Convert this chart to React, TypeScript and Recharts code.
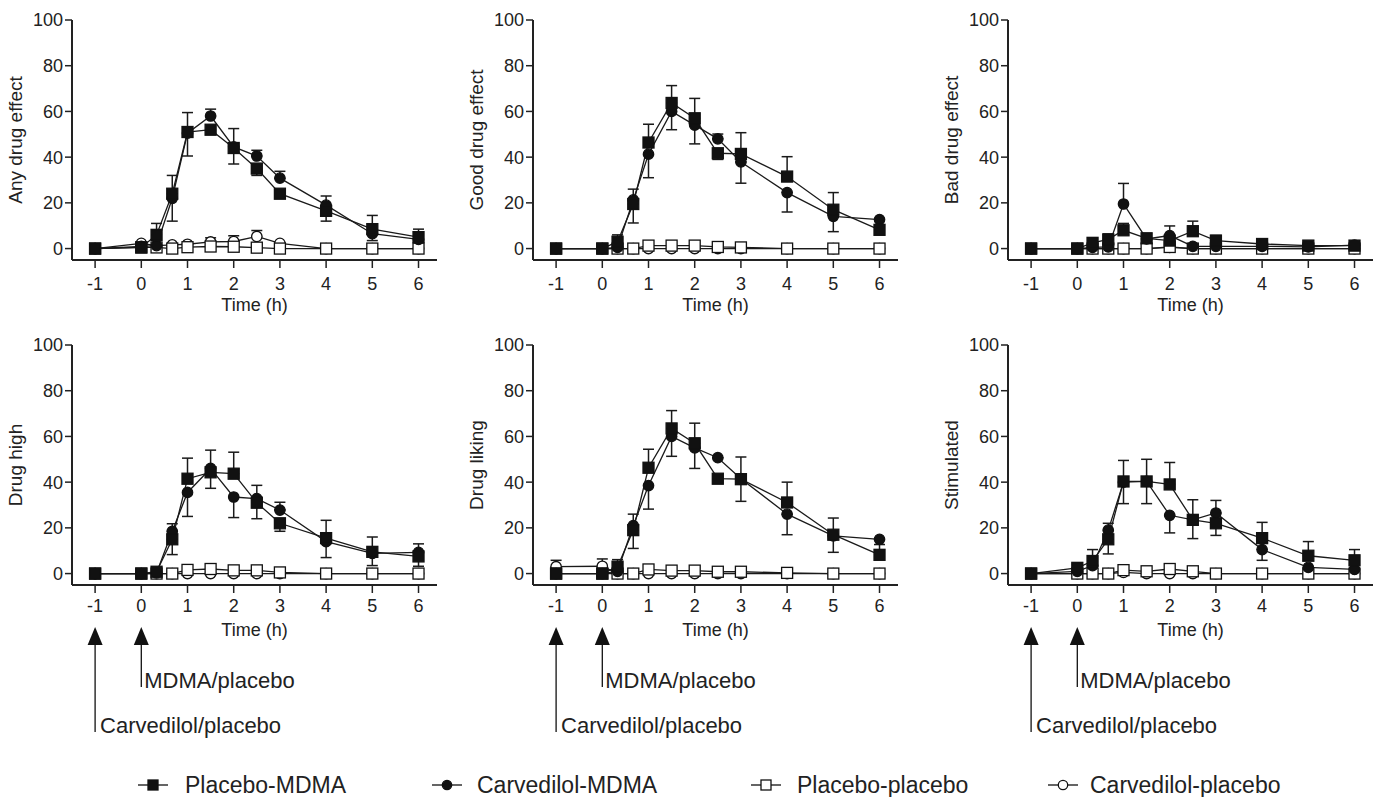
import React from 'react'
import { LineChart, Line, XAxis, YAxis, ErrorBar, Label } from 'recharts'

// ─── Data ────────────────────────────────────────────────────────────────────
// sampling times (h), -1 = carvedilol/placebo, 0 = MDMA/placebo
const times = [-1, 0, 0.33, 0.67, 1, 1.5, 2, 2.5, 3, 4, 5, 6]
const xTicks = [-1, 0, 1, 2, 3, 4, 5, 6]
const yTicks = [0, 20, 40, 60, 80, 100]

// error values: positive = bar drawn up, negative = bar drawn down

// Any drug effect
const anyPM = [0, 0.5, 6, 24, 51, 52, 44, 35, 24, 16.5, 8.5, 5]
const anyPMErr = [0, 0, 5, 8, 8.5, -2, 8.5, -3, 0, -4.5, 6, 3.5]
const anyCM = [0, 1, 1.3, 22, 50.5, 58, 44.5, 40.5, 30.8, 19, 6.5, 4]
const anyCMErr = [0, 0, 0, -10, -10, 3, -7.5, 2.5, 3, 4, -3, 0]
const anyPP = [0, 0.5, 0.5, 0, 0.6, 0.9, 0.8, 0.4, 0, 0, 0, 0]
const anyPPErr = [0, 0, 0, 0, 0, 0, 0, 0, 0, 0, 0, 0]
const anyCP = [0, 2.3, 1.3, 1.6, 1.9, 2.9, 3.1, 5.3, 2.3, 0, 0, 0]
const anyCPErr = [0, 0, 0, 0, 0, 1.8, 2.5, 2.6, 0, 0, 0, 0]

// Good drug effect
const goodPM = [0, 0, 3, 19.5, 46.4, 63.7, 57, 41.7, 41.4, 31.5, 17, 8.2]
const goodPMErr = [0, 0, 3, -8.3, 8, 7.6, 8.7, -2.7, 9.3, 8.7, 7.5, 0]
const goodCM = [0, 0, 0.5, 21.3, 41.3, 60, 54, 48, 37.9, 24.5, 14.1, 12.7]
const goodCMErr = [0, 0, 0, 4.7, -10.3, -8, -8.2, 2.1, -9.3, -8.5, -6.7, 0]
const goodPP = [0, 0, 0, 0, 1.3, 1.3, 1.3, 0.7, 0.5, 0, 0, 0]
const goodPPErr = [0, 0, 0, 0, 0, 0, 0, 0, 0, 0, 0, 0]
const goodCP = [0, 0, 0, 0, 0, 0, 0, 0, 0, 0, 0, 0]
const goodCPErr = [0, 0, 0, 0, 0, 0, 0, 0, 0, 0, 0, 0]

// Bad drug effect
const badPM = [0, 0, 2.5, 4, 8, 4.5, 3.5, 7.6, 3.5, 2, 1.3, 1.3]
const badPMErr = [0, 0, 0, 2.4, 3, 2, 0, 4.4, 2.2, 0, 0, 0]
const badCM = [0, 0, 0.5, 0.7, 19.5, 4.2, 5.7, 1, 1, 1, 0.7, 1.5]
const badCMErr = [0, 0, 0, 0, 9, 0, 4.2, 0, 0, 0, 0, 0]
const badPP = [0, 0, 0, 0, 0, 0, 0.7, 0, 0, 0, 0, 0]
const badPPErr = [0, 0, 0, 0, 0, 0, 0, 0, 0, 0, 0, 0]
const badCP = [0, 0, 0, 0, 0, 0, 0.5, 0, 0, 0, 0, 0]
const badCPErr = [0, 0, 0, 0, 0, 0, 0, 0, 0, 0, 0, 0]

// Drug high
const highPM = [0, 0, 0.8, 15, 41.5, 44.3, 43.7, 31, 22, 15.5, 9.5, 7.5]
const highPMErr = [0, 0, 0, -6.7, 9, -7, 9.4, -7, -3.5, 7.8, 6.5, -4.3]
const highCM = [0, 0, 0.3, 18.5, 35.5, 46, 33.5, 32.8, 27.8, 14, 8.8, 9.3]
const highCMErr = [0, 0, 0, 3.3, -10.5, 8, -9, 5.8, 3.4, -7, -5.3, 3.7]
const highPP = [0, 0, 0, 0, 1.6, 2, 1.4, 1.4, 0.5, 0, 0, 0]
const highPPErr = [0, 0, 0, 0, 0, 0, 0, 0, 0, 0, 0, 0]
const highCP = [0, 0, 0, 0, 0, 0, 0, 0, 0, 0, 0, 0]
const highCPErr = [0, 0, 0, 0, 0, 0, 0, 0, 0, 0, 0, 0]

// Drug liking
const likePM = [0, 0, 3, 19, 46.3, 63.5, 57, 41.5, 41.3, 31.1, 17, 8.2]
const likePMErr = [0, 0, 3.1, -8, 8.1, 7.8, 8.8, 0, 9.7, 8.9, 7.3, 4.5]
const likeCM = [0, 0, 1, 21, 38.5, 60, 55, 50.7, 41.5, 26, 16.5, 15]
const likeCMErr = [0, 0, 0, 5, -10.3, -8.7, -9, 0, -9.9, -9, -7.2, 0]
const likePP = [0, 0, 0, 0, 1.8, 1.3, 1.3, 0.8, 0.8, 0.3, 0, 0]
const likePPErr = [0, 0, 0, 0, 0, 0, 0, 0, 0, 0, 0, 0]
const likeCP = [3, 3.2, 0, 0, 0, 0, 0, 0, 0, 0, 0, 0]
const likeCPErr = [2.8, 3.2, 0, 0, 0, 0, 0, 0, 0, 0, 0, 0]

// Stimulated
const stimPM = [0, 2.5, 5.5, 15, 40.3, 40.3, 39, 23.5, 22, 15.5, 7.8, 5.8]
const stimPMErr = [0, 1.5, 5, -6.4, 9.2, 9.7, 9.6, 8.8, -5.3, 6.9, 6.2, 4.7]
const stimCM = [0, 1, 3.5, 19, 40, 40.3, 25.5, 23.5, 26.5, 10.5, 2.7, 1.8]
const stimCMErr = [0, 0, 0, 3, -9.4, -9.7, -7.7, -8.2, 5.5, -4.7, 0, 0]
const stimPP = [0, 0, 0, 0, 1.5, 1, 2, 1, 0, 0, 0, 0]
const stimPPErr = [0, 0, 0, 0, 0, 0, 0, 0, 0, 0, 0, 0]
const stimCP = [0, 0, 0, 0, 0.5, 0, 0, 0, 0, 0, 0, 0]
const stimCPErr = [0, 0, 0, 0, 0, 0, 0, 0, 0, 0, 0, 0]

// ─── Layout ──────────────────────────────────────────────────────────────────

const FONT = "'Liberation Sans', Arial, Helvetica, sans-serif"
const INK = '#222'
const X_MIN = -1.5
const X_MAX = 6.4
const AXIS_W = 72
const PLOT_W = 365
const PLOT_H = 240
const TOP_M = 20
const XAXIS_H = 60
const CHART_W = AXIS_W + PLOT_W + 8
const CHART_H = TOP_M + PLOT_H + XAXIS_H
const PLOT_LEFTS = [72, 533, 1008]
const ROW_TOPS = [0, 325]
const TICK_MARGINS = [9, 6]

const errPair = (e: number) => (e >= 0 ? [0, e] : [-e, 0])

function buildRows(pm, pmE, cm, cmE, pp, ppE, cp, cpE) {
  return times.map((t, i) => ({
    t,
    pm: pm[i], pmE: errPair(pmE[i]),
    cm: cm[i], cmE: errPair(cmE[i]),
    pp: pp[i], ppE: errPair(ppE[i]),
    cp: cp[i], cpE: errPair(cpE[i]),
  }))
}

const panels = [
  { title: 'Any drug effect', rows: buildRows(anyPM, anyPMErr, anyCM, anyCMErr, anyPP, anyPPErr, anyCP, anyCPErr) },
  { title: 'Good drug effect', rows: buildRows(goodPM, goodPMErr, goodCM, goodCMErr, goodPP, goodPPErr, goodCP, goodCPErr) },
  { title: 'Bad drug effect', rows: buildRows(badPM, badPMErr, badCM, badCMErr, badPP, badPPErr, badCP, badCPErr) },
  { title: 'Drug high', rows: buildRows(highPM, highPMErr, highCM, highCMErr, highPP, highPPErr, highCP, highCPErr) },
  { title: 'Drug liking', rows: buildRows(likePM, likePMErr, likeCM, likeCMErr, likePP, likePPErr, likeCP, likeCPErr) },
  { title: 'Stimulated', rows: buildRows(stimPM, stimPMErr, stimCM, stimCMErr, stimPP, stimPPErr, stimCP, stimCPErr) },
]

// drawn back to front: open series first, filled squares on top
const seriesDefs = [
  { key: 'cp', name: 'Carvedilol-placebo', shape: 'circle', filled: false },
  { key: 'pp', name: 'Placebo-placebo', shape: 'square', filled: false },
  { key: 'cm', name: 'Carvedilol-MDMA', shape: 'circle', filled: true },
  { key: 'pm', name: 'Placebo-MDMA', shape: 'square', filled: true },
]

const legendItems = [
  { name: 'Placebo-MDMA', shape: 'square', filled: true, cx: 153, tx: 185 },
  { name: 'Carvedilol-MDMA', shape: 'circle', filled: true, cx: 447, tx: 477 },
  { name: 'Placebo-placebo', shape: 'square', filled: false, cx: 766, tx: 797 },
  { name: 'Carvedilol-placebo', shape: 'circle', filled: false, cx: 1063, tx: 1090 },
]

// ─── Markers ─────────────────────────────────────────────────────────────────

function Marker({ cx, cy, shape, filled, size = 11 }: any) {
  const fill = filled ? '#111' : '#fff'
  const h = size / 2
  if (shape === 'square') {
    return <rect x={cx - h} y={cy - h} width={size} height={size} fill={fill} stroke="#111" strokeWidth={1.3} />
  }
  return <circle cx={cx} cy={cy} r={h - 0.3} fill={fill} stroke="#111" strokeWidth={1.3} />
}

const makeDot = (shape: string, filled: boolean) => (props: any) => {
  const { cx, cy, index } = props
  if (cx == null || cy == null) return <g key={`d-${index}`} />
  return (
    <g key={`d-${index}`}>
      <Marker cx={cx} cy={cy} shape={shape} filled={filled} />
    </g>
  )
}

// ─── Panel ───────────────────────────────────────────────────────────────────

function Panel({ title, rows, row }: any) {
  return (
    <LineChart
      width={CHART_W}
      height={CHART_H}
      data={rows}
      margin={{ top: TOP_M, right: 8, bottom: 0, left: 0 }}
    >
      <XAxis
        dataKey="t"
        type="number"
        domain={[X_MIN, X_MAX]}
        ticks={xTicks}
        interval={0}
        allowDataOverflow
        height={XAXIS_H}
        tickSize={8}
        tickMargin={TICK_MARGINS[row]}
        axisLine={{ stroke: INK, strokeWidth: 2 }}
        tickLine={{ stroke: INK, strokeWidth: 1.5 }}
        tick={{ fontSize: 18, fill: INK, fontFamily: FONT }}
      >
        <Label
          value="Time (h)"
          position="insideBottom"
          offset={9}
          style={{ fontSize: 18, fill: INK, fontFamily: FONT }}
        />
      </XAxis>
      <YAxis
        type="number"
        domain={[-5, 100]}
        ticks={yTicks}
        interval={0}
        allowDataOverflow
        width={AXIS_W}
        tickSize={7}
        tickMargin={2}
        axisLine={{ stroke: INK, strokeWidth: 2 }}
        tickLine={{ stroke: INK, strokeWidth: 1.5 }}
        tick={{ fontSize: 18, fill: INK, fontFamily: FONT }}
      >
        <Label
          value={title}
          angle={-90}
          position="insideLeft"
          offset={15.5}
          style={{ fontSize: 19, fill: INK, fontFamily: FONT, textAnchor: 'middle' }}
        />
      </YAxis>
      {seriesDefs.map(s => (
        <Line
          key={s.key}
          dataKey={s.key}
          name={s.name}
          type="linear"
          stroke="#1a1a1a"
          strokeWidth={1.3}
          dot={makeDot(s.shape, s.filled)}
          activeDot={false}
          isAnimationActive={false}
        >
          <ErrorBar dataKey={`${s.key}E`} direction="y" width={5.5} stroke="#1a1a1a" strokeWidth={1.5} />
        </Line>
      ))}
    </LineChart>
  )
}

// ─── Annotations (dosing arrows) and legend ──────────────────────────────────

const xPix = (plotLeft: number, t: number) => plotLeft + ((t - X_MIN) / (X_MAX - X_MIN)) * PLOT_W

function Overlay() {
  return (
    <svg width={1381} height={797} style={{ position: 'absolute', left: 0, top: 0, pointerEvents: 'none' }}>
      {PLOT_LEFTS.map((left, i) => {
        const a = xPix(left, -1)
        const b = xPix(left, 0)
        return (
          <g key={i} fontFamily={FONT} fontSize={22} fill={INK}>
            <polygon points={`${a},627 ${a - 7.5},645 ${a + 7.5},645`} fill="#111" />
            <line x1={a} y1={644} x2={a} y2={732} stroke="#111" strokeWidth={1.3} />
            <polygon points={`${b},627 ${b - 7.5},645 ${b + 7.5},645`} fill="#111" />
            <line x1={b} y1={644} x2={b} y2={687} stroke="#111" strokeWidth={1.3} />
            <text x={b + 3} y={688}>MDMA/placebo</text>
            <text x={a + 5} y={733}>Carvedilol/placebo</text>
          </g>
        )
      })}
      {legendItems.map(it => (
        <g key={it.name}>
          <line x1={it.cx - 15} y1={785} x2={it.cx + 15} y2={785} stroke="#111" strokeWidth={1.3} />
          <Marker cx={it.cx} cy={785} shape={it.shape} filled={it.filled} size={10} />
          <text x={it.tx} y={793} fontFamily={FONT} fontSize={23} fill={INK}>{it.name}</text>
        </g>
      ))}
    </svg>
  )
}

export default function App() {
  return (
    <div style={{ position: 'absolute', left: 0, top: 0, width: 1381, height: 797, background: '#fff', overflow: 'hidden', fontFamily: FONT }}>
      {panels.map((p, i) => {
        const row = Math.floor(i / 3)
        const col = i % 3
        return (
          <div key={p.title} style={{ position: 'absolute', left: PLOT_LEFTS[col] - AXIS_W, top: ROW_TOPS[row] }}>
            <Panel title={p.title} rows={p.rows} row={row} />
          </div>
        )
      })}
      <Overlay />
    </div>
  )
}
